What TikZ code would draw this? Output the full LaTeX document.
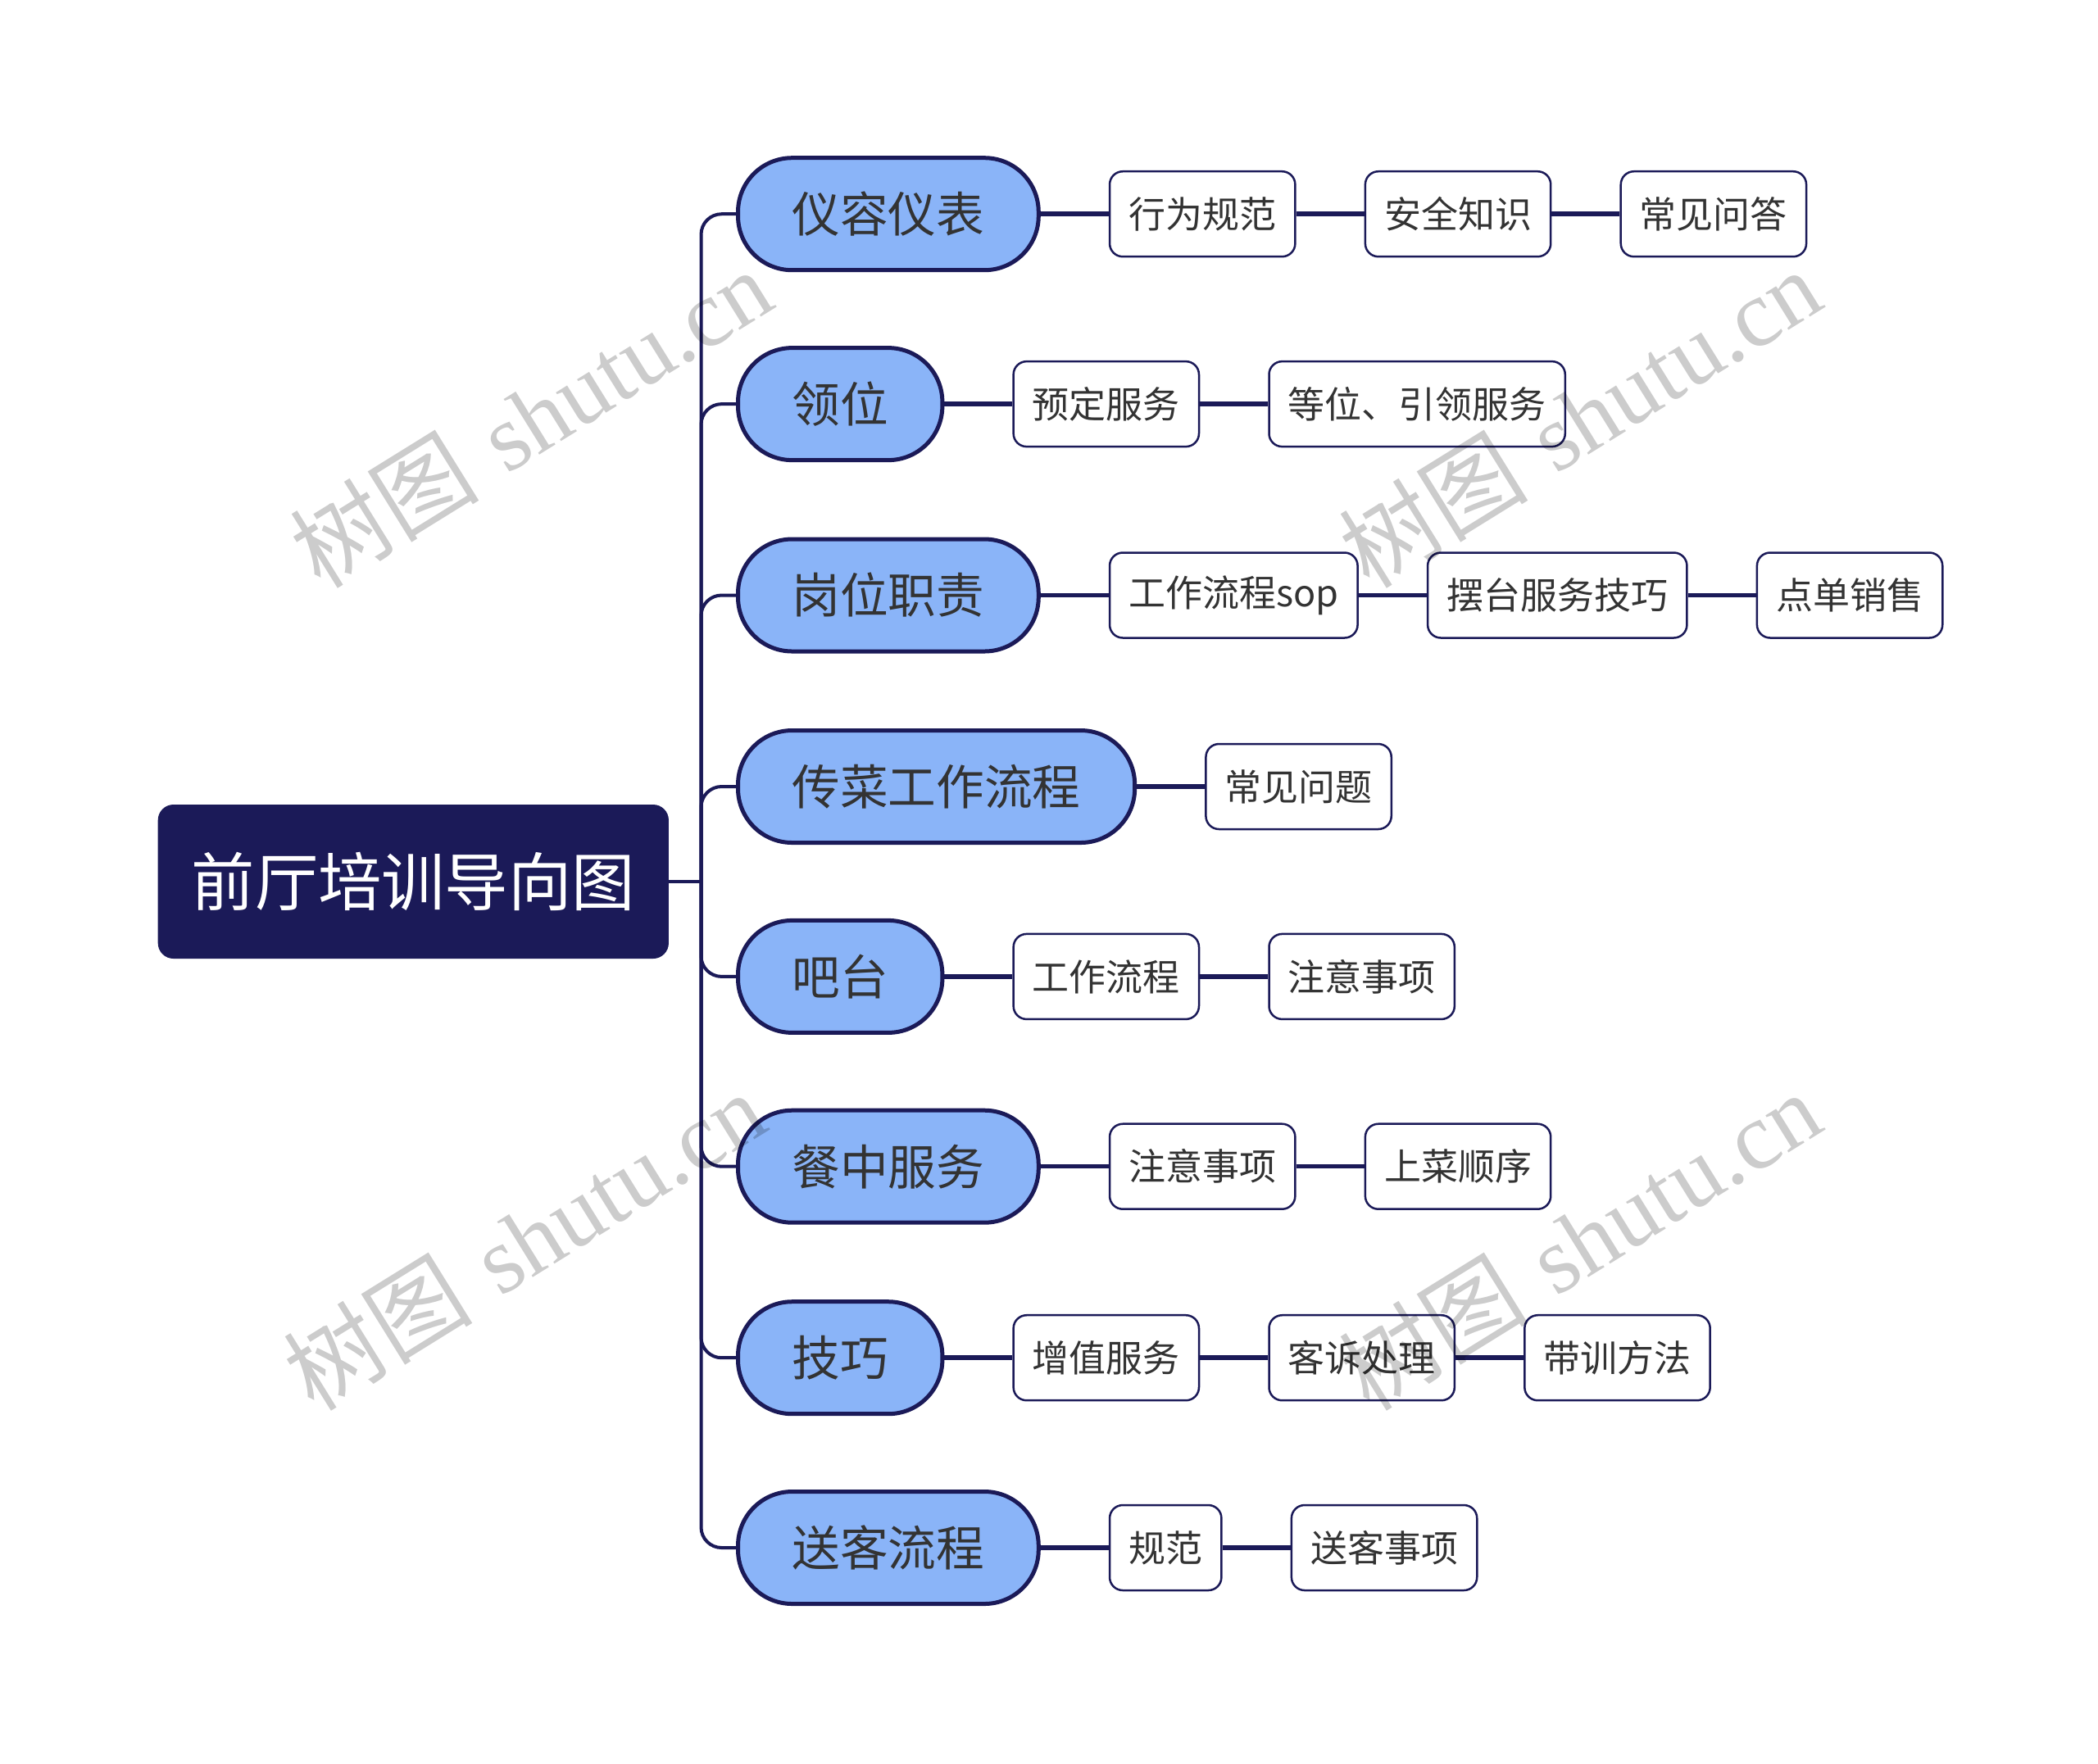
\documentclass[tikz,border=0pt]{standalone}
\usepackage{fontspec}
\newfontfamily\cjk{Noto Sans CJK SC}
\newfontfamily\wmserif{Liberation Serif}
\usetikzlibrary{positioning}
\definecolor{navy}{RGB}{27,26,88}
\definecolor{lblue}{RGB}{138,180,248}
\definecolor{txt}{RGB}{51,51,51}
\begin{document}
\begin{tikzpicture}[
 rootbox/.style={fill=navy, draw=navy, line width=0.02cm, rounded corners=0.18cm, text=white, font=\cjk\fontsize{22}{26}\selectfont, inner xsep=0.40cm, minimum height=1.86cm, anchor=west},
 topicbox/.style={fill=lblue, draw=navy, line width=0.05cm, rounded corners=0.66cm, text=txt, font=\cjk\fontsize{16.7}{20}\selectfont, inner xsep=0.66cm, minimum height=1.37cm, anchor=west},
 subbox/.style={fill=white, draw=navy, line width=0.025cm, rounded corners=0.16cm, text=txt, font=\cjk\fontsize{12.8}{15}\selectfont, inner xsep=0.232cm, minimum height=1.04cm, right=0.83cm of #1},
 link/.style={draw=navy, line width=0.04cm},
 sublink/.style={draw=navy, line width=0.055cm},
 wmark/.style={rotate=31.8, text=black, opacity=0.2, font=\fontsize{33}{36}\selectfont}
]
\fill[white] (0,0) rectangle (25.6,-21.52);
\useasboundingbox (0,0) rectangle (25.6,-21.52);

\node[rootbox] (root) at (1.927,-10.76) {前厅培训导向图};
\coordinate (trunk) at (8.555,-10.76);

\node[topicbox] (t1) at (8.98,-2.612) {仪容仪表};
\node[topicbox] (t2) at (8.98,-4.931) {领位};
\node[topicbox] (t3) at (8.98,-7.265) {岗位职责};
\node[topicbox] (t4) at (8.98,-9.600) {传菜工作流程};
\node[topicbox] (t5) at (8.98,-11.919) {吧台};
\node[topicbox] (t6) at (8.98,-14.237) {餐中服务};
\node[topicbox] (t7) at (8.98,-16.572) {技巧};
\node[topicbox] (t8) at (8.98,-18.890) {送客流程};

\draw[link] (root.east) -- (trunk);
\foreach \t in {t1,t2,t3,t4,t5,t6,t7,t8}
  \draw[link, rounded corners=0.25cm] (trunk) |- (\t.west);

% row 1
\node[subbox=t1] (a1) {行为规范};
\node[subbox=a1] (a2) {安全知识};
\node[subbox=a2] (a3) {常见问答};
% row 2
\node[subbox=t2] (b1) {预定服务};
\node[subbox=b1] (b2) {等位、引领服务};
% row 3
\node[subbox=t3] (c1) {工作流程sop};
\node[subbox=c1] (c2) {摆台服务技巧};
\node[subbox=c2] (c3) {点单销售};
% row 4
\node[subbox=t4] (d1) {常见问题};
% row 5
\node[subbox=t5] (e1) {工作流程};
\node[subbox=e1] (e2) {注意事项};
% row 6
\node[subbox=t6] (f1) {注意事项};
\node[subbox=f1] (f2) {上菜顺序};
% row 7
\node[subbox=t7] (g1) {增值服务};
\node[subbox=g1] (g2) {客诉处理};
\node[subbox=g2] (g3) {带训方法};
% row 8
\node[subbox=t8] (h1) {规范};
\node[subbox=h1] (h2) {送客事项};

\foreach \a/\b in {t1/a1,a1/a2,a2/a3,t2/b1,b1/b2,t3/c1,c1/c2,c2/c3,t4/d1,t5/e1,e1/e2,t6/f1,f1/f2,t7/g1,g1/g2,g2/g3,t8/h1,h1/h2}
  \draw[sublink] (\a.east) -- (\b.west);

% watermarks
\node[wmark] (w1) at (6.47,-5.10) {{\cjk 树图} {\wmserif shutu.cn}};
\node[wmark] (w2) at (19.27,-5.10) {{\cjk 树图} {\wmserif shutu.cn}};
\node[wmark] (w3) at (6.39,-15.14) {{\cjk 树图} {\wmserif shutu.cn}};
\node[wmark] (w4) at (19.27,-15.14) {{\cjk 树图} {\wmserif shutu.cn}};
\end{tikzpicture}
\end{document}
